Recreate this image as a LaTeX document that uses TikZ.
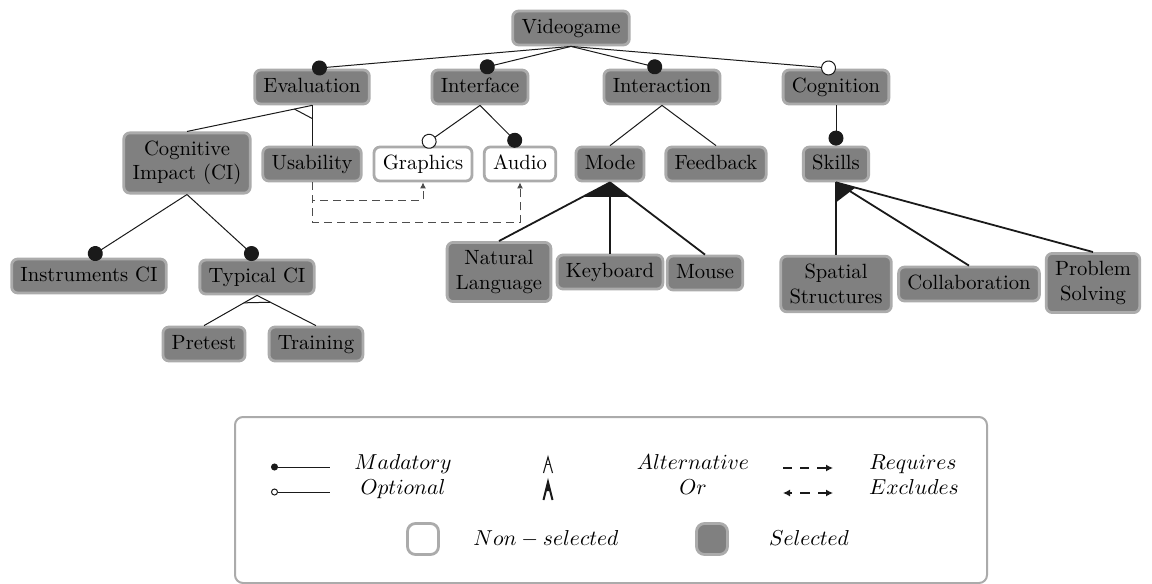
\RequirePackage{fix-cm}
\documentclass[tikz,border=0pt]{standalone}
\usetikzlibrary{arrows.meta,calc}
\definecolor{selgray}{HTML}{808080}
\definecolor{bordgray}{HTML}{ABABAB}
\definecolor{linecol}{HTML}{1A1A1A}
\definecolor{dashcol}{HTML}{4D4D4D}
\tikzset{
  feat/.style={draw=bordgray, line width=1.4pt, rounded corners=3pt, fill=selgray,
    inner xsep=4.4pt, inner ysep=4pt, font=\fontsize{10.3}{12.3}\selectfont, align=center},
  oneline/.style={text height=7pt, text depth=2pt},
  nosel/.style={fill=white},
  lnE/.style={draw=linecol, line width=0.5pt},
  mandE/.style={lnE, -{Circle[length=7.5pt]}},
  optE/.style={lnE, -{Circle[open, length=7.5pt, fill=white]}},
  orE/.style={draw=linecol, line width=0.9pt},
  reqE/.style={draw=dashcol, line width=0.5pt, dash pattern=on 4pt off 2.5pt, -{Latex[length=3pt,width=3pt]}},
  legbox/.style={draw=bordgray, line width=1pt, rounded corners=4pt, minimum width=376pt, minimum height=83pt, inner sep=0pt},
  legtxt/.style={font=\fontsize{10.8}{13}\selectfont, inner sep=0pt, anchor=base},
  legdash/.style={draw=linecol, line width=0.6pt, dash pattern=on 4.5pt off 4pt},
}
\begin{document}
\begin{tikzpicture}[x=0.5pt,y=-0.5pt]
\useasboundingbox (0,0) rectangle (1152,584);

% features
\node[feat,oneline] (vg) at (571,28) {Videogame};
\node[feat,oneline] (eval) at (312,87) {Evaluation};
\node[feat,oneline] (intf) at (480,87) {Interface};
\node[feat,oneline] (intr) at (662,87) {Interaction};
\node[feat,oneline] (cog) at (836,87) {Cognition};
\node[feat] (ci) at (187,163) {Cognitive\\Impact (CI)};
\node[feat,oneline] (usab) at (312,164) {Usability};
\node[feat,oneline,nosel] (gfx) at (423,164) {Graphics};
\node[feat,oneline,nosel] (aud) at (520,164) {Audio};
\node[feat,oneline] (mode) at (610,164) {Mode};
\node[feat,oneline] (fb) at (716,164) {Feedback};
\node[feat,oneline] (skl) at (836,164) {Skills};
\node[feat,oneline] (inst) at (89,276) {Instruments CI};
\node[feat,oneline] (typ) at (257,277) {Typical CI};
\node[feat,oneline] (pre) at (204,344) {Pretest};
\node[feat,oneline] (tra) at (316,344) {Training};
\node[feat] (nl) at (499,272) {Natural\\Language};
\node[feat,oneline] (kb) at (610,272) {Keyboard};
\node[feat,oneline] (mou) at (705,273) {Mouse};
\node[feat] (sp) at (836,284) {Spatial\\Structures};
\node[feat,oneline] (col) at (969,284) {Collaboration};
\node[feat] (ps) at (1093,283) {Problem\\Solving};

% top level
\draw[mandE] (vg.south) -- (eval.north);
\draw[mandE] (vg.south) -- (intf.north);
\draw[mandE] (vg.south) -- (intr.north);
\draw[optE] (vg.south) -- (cog.north);

% Evaluation: alternative
\draw[lnE] (eval.south) -- (ci.north);
\draw[lnE] (eval.south) -- (usab.north);
\draw[lnE] ($(eval.south)!9pt!(ci.north)$) -- ($(eval.south)!6.5pt!(usab.north)$);

% Interface
\draw[optE] (intf.south) -- (gfx.north);
\draw[mandE] (intf.south) -- (aud.north);

% Interaction
\draw[lnE] (intr.south) -- (mode.north);
\draw[lnE] (intr.south) -- (fb.north);

% Cognition
\draw[mandE] (cog.south) -- (skl.north);

% Cognitive impact
\draw[mandE] (ci.south) -- (inst.north);
\draw[mandE] (ci.south) -- (typ.north);

% Typical CI: alternative
\draw[lnE] (typ.south) -- (pre.north);
\draw[lnE] (typ.south) -- (tra.north);
\draw[lnE] ($(typ.south)!7.5pt!(pre.north)$) -- ($(typ.south)!7.5pt!(tra.north)$);

% Mode: or
\draw[orE] (mode.south) -- (nl.north);
\draw[orE] (mode.south) -- (kb.north);
\draw[orE] (mode.south) -- (mou.north);
\fill[linecol] (mode.south) -- ($(mode.south)!15.5pt!(nl.north)$) -- ($(mode.south)!12pt!(mou.north)$) -- cycle;

% Skills: or
\draw[orE] (skl.south) -- (sp.north);
\draw[orE] (skl.south) -- (col.north);
\draw[orE] (skl.south) -- (ps.north);
\fill[linecol] (skl.south) -- ($(skl.south)!10pt!(sp.north)$) -- ($(skl.south)!10pt!(ps.north)$) -- cycle;

% requires
\draw[reqE] (usab.south) -- ++(0,18) -| (gfx.south);
\draw[reqE] (usab.south) -- ++(0,40) -| (aud.south);

% legend
\node[legbox] (leg) at (611,500) {};
\coordinate (ma) at (271,467); \coordinate (mb) at (330,467);
\draw[lnE,{Circle[length=3.5pt]}-] (ma) -- (mb);
\coordinate (oa) at (271,492); \coordinate (ob) at (330,492);
\draw[lnE,{Circle[open,length=3.5pt,fill=white]}-] (oa) -- (ob);
\node[legtxt] (tm) at (403,469) {$Madatory$};
\node[legtxt] (to) at (403,494) {$Optional$};

% alternative / or symbols
\draw[linecol,line width=0.55pt] (543.5,473) -- (548,457) -- (552.5,473);
\draw[linecol,line width=0.5pt] (546,464) -- (550,464);
\draw[linecol,line width=1pt] (543.5,500) -- (548,482) -- (552.5,500);
\fill[linecol] (548,481) -- (545.3,491) -- (550.7,491) -- cycle;
\node[legtxt] (talt) at (693,469) {$Alternative$};
\node[legtxt] (tor) at (693,494) {$Or$};

% requires / excludes
\coordinate (ra) at (783,468); \coordinate (rb) at (833,468);
\draw[legdash,-{Latex[length=3.5pt,width=3.5pt]}] (ra) -- (rb);
\coordinate (xa) at (783,493); \coordinate (xb) at (833,493);
\draw[legdash,dash pattern=on 5pt off 4pt,dash phase=3.5pt,{Latex[length=3.5pt,width=3.5pt]}-{Latex[length=3.5pt,width=3.5pt]}] (xa) -- (xb);
\node[legtxt] (treq) at (913,469) {$Requires$};
\node[legtxt] (texc) at (914,494) {$Excludes$};

% selected / non-selected
\node[feat,nosel,minimum size=15.5pt,inner sep=0pt,rounded corners=4pt] (nsq) at (423,539) {};
\node[legtxt] (tns) at (546,545) {$Non-selected$};
\node[feat,minimum size=15.5pt,inner sep=0pt,rounded corners=4pt] (ssq) at (712,539) {};
\node[legtxt] (tsel) at (809,545) {$Selected$};
\end{tikzpicture}
\end{document}
